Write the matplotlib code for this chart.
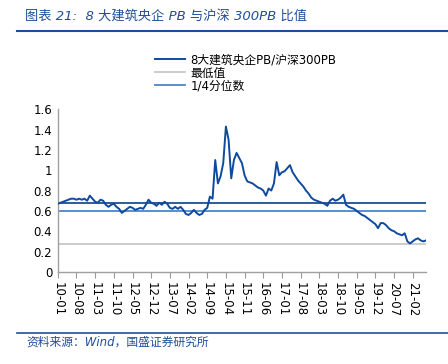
import matplotlib
matplotlib.use("Agg")
import matplotlib.pyplot as plt
import numpy as np

plt.rcParams['font.family'] = ['DejaVu Sans', 'Noto Sans CJK SC']

# Monthly ratio values, 2010-01 .. 2021-07
ratio = [
    0.67, 0.68, 0.69, 0.70, 0.71, 0.72, 0.72, 0.71, 0.72, 0.71, 0.72, 0.70,  # 2010
    0.75, 0.72, 0.69, 0.68, 0.71, 0.70, 0.66, 0.64, 0.66, 0.67, 0.64, 0.62,  # 2011
    0.58, 0.60, 0.62, 0.64, 0.63, 0.61, 0.62, 0.63, 0.62, 0.66, 0.71, 0.68,  # 2012
    0.67, 0.65, 0.68, 0.66, 0.69, 0.67, 0.63, 0.62, 0.64, 0.62, 0.64, 0.61,  # 2013
    0.57, 0.56, 0.58, 0.61, 0.58, 0.56, 0.57, 0.61, 0.63, 0.74, 0.72, 1.10,  # 2014
    0.87, 0.94, 1.07, 1.43, 1.30, 0.92, 1.10, 1.17, 1.12, 1.07, 0.95, 0.89,  # 2015
    0.88, 0.87, 0.85, 0.83, 0.82, 0.80, 0.75, 0.82, 0.80, 0.87, 1.08, 0.95,  # 2016
    0.98, 0.99, 1.02, 1.05, 0.98, 0.94, 0.90, 0.87, 0.84, 0.80, 0.77, 0.73,  # 2017
    0.71, 0.70, 0.69, 0.68, 0.67, 0.65, 0.70, 0.72, 0.70, 0.71, 0.73, 0.76,  # 2018
    0.66, 0.64, 0.63, 0.62, 0.60, 0.58, 0.56, 0.55, 0.53, 0.51, 0.49, 0.47,  # 2019
    0.43, 0.48, 0.48, 0.46, 0.43, 0.41, 0.40, 0.38, 0.37, 0.36, 0.38, 0.30,  # 2020
    0.28, 0.30, 0.32, 0.33, 0.31, 0.30, 0.31,                                # 2021
]
min_value = 0.27
quarter_value = 0.60
ref_value = 0.68

tick_labels = ['10-01', '10-08', '11-03', '11-10', '12-05', '12-12', '13-07',
               '14-02', '14-09', '15-04', '15-11', '16-06', '17-01', '17-08',
               '18-03', '18-10', '19-05', '19-12', '20-07', '21-02']

series_label = '8大建筑央企PB/沪深300PB'
min_label = '最低值'
quarter_label = '1/4分位数'

title = '图表 21:  8 大建筑央企 PB 与沪深 300PB 比值'
source = '资料来源：Wind，国盛证券研究所'

blue_dark = '#0F4A9E'
blue_light = '#4A86C8'
gray = '#C8C8C8'
title_blue = '#1F4E9A'

fig = plt.figure(figsize=(4.48, 3.64), dpi=100)
ax = fig.add_axes([0.129, 0.253, 0.822, 0.447])

x = np.arange(len(ratio))
ax.axhline(ref_value, color='#1F4E8C', lw=1.3, zorder=2)
l2 = ax.axhline(min_value, color=gray, lw=1.3, zorder=2, label=min_label)
l3 = ax.axhline(quarter_value, color=blue_light, lw=1.3, zorder=2, label=quarter_label)
l1, = ax.plot(x, ratio, color=blue_dark, lw=1.4, zorder=3, label=series_label)

ax.set_xlim(0, len(ratio) - 1)
ax.set_ylim(0, 1.6)
ax.set_yticks(np.arange(0, 1.61, 0.2))
ax.set_yticklabels(['0', '0.2', '0.4', '0.6', '0.8', '1', '1.2', '1.4', '1.6'], fontsize=8.5)
ax.tick_params(axis='y', length=0, pad=4)
xt = np.arange(0, 7 * len(tick_labels), 7)
ax.set_xticks(xt)
ax.set_xticklabels(tick_labels, rotation=-90, fontsize=8.5)
ax.tick_params(axis='x', length=4, color='#999999', pad=3, direction='out')
for s in ['top', 'right']:
    ax.spines[s].set_visible(False)
for s in ['left', 'bottom']:
    ax.spines[s].set_color('#A0A0A0')
    ax.spines[s].set_linewidth(1.0)

leg = fig.legend(handles=[l1, l2, l3], labels=[series_label, min_label, quarter_label],
                 loc='upper left', bbox_to_anchor=(0.335, 0.866), frameon=False,
                 fontsize=8.5, handlelength=2.6, handletextpad=0.4,
                 labelspacing=0.0, borderaxespad=0)

fig.text(0.055, 0.955, title, fontsize=9.5, color=title_blue, style='italic',
         ha='left', va='center')
fig.add_artist(plt.Line2D([0.038, 1.0], [0.915, 0.915], color=title_blue, lw=1.5))
fig.add_artist(plt.Line2D([0.038, 1.0], [0.085, 0.085], color=title_blue, lw=1.2))
fig.text(0.06, 0.06, source, fontsize=8.5, color=title_blue, style='italic',
         ha='left', va='center')

fig.savefig('out.png', dpi=100)
